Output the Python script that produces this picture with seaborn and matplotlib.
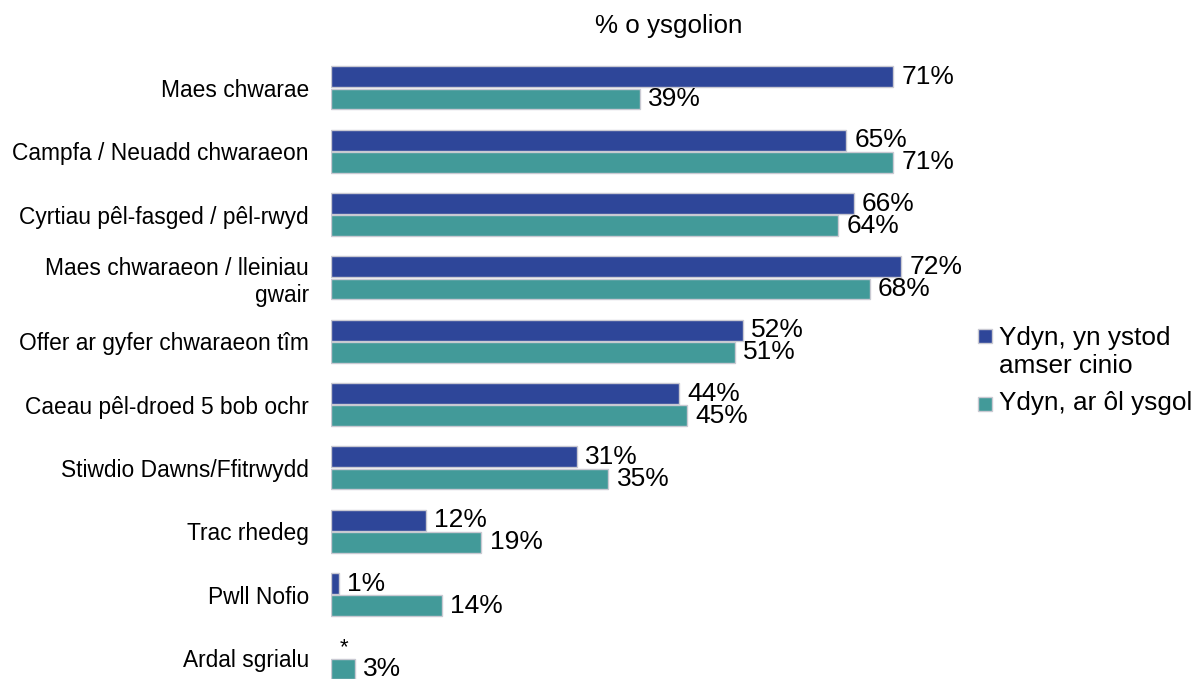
import numpy as np
import pandas as pd
import matplotlib
matplotlib.use("Agg")
import matplotlib.pyplot as plt
import seaborn as sns

categories = [
    "Maes chwarae",
    "Campfa / Neuadd chwaraeon",
    "Cyrtiau pêl-fasged / pêl-rwyd",
    "Maes chwaraeon / lleiniau\ngwair",
    "Offer ar gyfer chwaraeon tîm",
    "Caeau pêl-droed 5 bob ochr",
    "Stiwdio Dawns/Ffitrwydd",
    "Trac rhedeg",
    "Pwll Nofio",
    "Ardal sgrialu",
]
series = ["Ydyn, yn ystod\namser cinio", "Ydyn, ar ôl ysgol"]
lunch = [71, 65, 66, 72, 52, 44, 31, 12, 1, np.nan]   # nan -> shown as "*"
after_school = [39, 71, 64, 68, 51, 45, 35, 19, 14, 3]
colors = ["#2E4699", "#429A99"]

df = pd.DataFrame({
    "category": categories * 2,
    "series": [series[0]] * len(categories) + [series[1]] * len(categories),
    "value": lunch + after_school,
})

sns.set_style("white")
plt.rcParams["font.family"] = ["Liberation Sans", "DejaVu Sans"]
plt.rcParams["text.color"] = "black"
plt.rcParams["ytick.labelcolor"] = "black"

W, H = 1195, 679
fig = plt.figure(figsize=(W / 100, H / 100), dpi=100)

# axes placed in pixel terms: left edge at x=331, 7.92 px per percent
x_left, x_right = 331, 941
y_top = 56.3
ax = fig.add_axes([x_left / W, 0, (x_right - x_left) / W, (H - y_top) / H])

bar_w = 0.7
sns.barplot(
    data=df, x="value", y="category", hue="series",
    palette=colors, saturation=1, orient="h", width=bar_w, gap=0.06,
    edgecolor="#c9c9d2", linewidth=1.0, ax=ax, legend=False,
)

ax.set_xlim(0, (x_right - x_left) / 7.92)
ax.set_ylim(-0.5 + (H - y_top) / 63.33, -0.5)

# value labels (nan bars are not drawn by seaborn, so place by category index)
for k, vals in enumerate([lunch, after_school]):
    off = (k - 0.5) * bar_w / 2
    for i, v in enumerate(vals):
        yc = i + off
        if np.isnan(v):
            ax.annotate("*", (0, yc), xytext=(6, -4.3), textcoords="offset points",
                        ha="left", va="baseline", fontsize=16)
        else:
            ax.annotate(f"{v:.0f}%", (v, yc), xytext=(6, 0), textcoords="offset points",
                        ha="left", va="center", fontsize=19)

ax.set_xlabel("")
ax.set_ylabel("")
ax.set_xticks([])
ax.tick_params(axis="y", length=0, pad=16, labelsize=16.4)
for lbl in ax.get_yticklabels():
    lbl.set_multialignment("right")
sns.despine(ax=ax, left=True, bottom=True)

fig.text(668.5 / W, 1 - 33 / H, "% o ysgolion", ha="center", va="baseline", fontsize=18.7)

# legend drawn by hand so the square sits on the first line of a two-line entry
leg_rows = [(336, 345, series[0]), (404.5, 410, series[1])]
for (ym, base, label), c in zip(leg_rows, colors):
    fig.patches.append(plt.Rectangle((978 / W, 1 - (ym + 7) / H), 14 / W, 14 / H,
                                     facecolor=c, edgecolor="#c9c9d2", linewidth=1,
                                     transform=fig.transFigure, figure=fig))
    for j, line in enumerate(label.split("\n")):
        fig.text(999 / W, 1 - (base + 28 * j) / H, line, ha="left", va="baseline",
                 fontsize=18.8)

fig.savefig("out.png", dpi=100)
